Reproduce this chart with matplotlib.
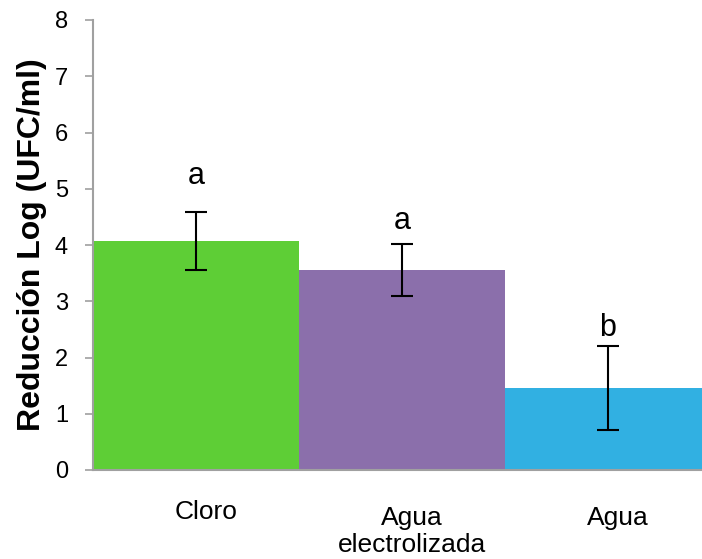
import numpy as np
import matplotlib.pyplot as plt
import matplotlib.transforms as mtransforms

plt.rcParams['font.family'] = ['Liberation Sans', 'DejaVu Sans']

# datos
tratamientos = ['Cloro', 'Agua\nelectrolizada', 'Agua']
reduccion = [4.07, 3.56, 1.46]
error = [0.52, 0.46, 0.74]
letras = ['a', 'a', 'b']
altura_letras = [5.23, 4.43, 2.52]
colores = ['#5ece36', '#8b6fab', '#31b0e2']

fig = plt.figure(figsize=(7.02, 5.59), dpi=100)
ax = fig.add_axes([93 / 702, 89 / 559, 618 / 702, 450 / 559])

x = np.arange(len(tratamientos))
ax.bar(x, reduccion, width=1.0, color=colores, zorder=2)
ax.errorbar(x, reduccion, yerr=error, fmt='none', ecolor='black',
            elinewidth=1.5, capsize=8, capthick=1.5, zorder=3)

# letras de significancia
for xi, h, l in zip(x, altura_letras, letras):
    ax.text(xi, h, l, ha='center', va='center', fontsize=22)

ax.set_xlim(-0.5, 2.5)
ax.set_ylim(0, 8)
ax.set_yticks(range(0, 9))
ax.tick_params(axis='y', labelsize=17, length=6, width=1.2, color='#a0a0a0', pad=12)
ax.set_xticks([])

# etiquetas de categorias, algo corridas a la derecha como en Excel
desp = mtransforms.ScaledTranslation(10 / 100, 0, fig.dpi_scale_trans)
tr = ax.get_xaxis_transform() + desp
ax.text(0, -0.066, tratamientos[0], transform=tr, ha='center', va='top', fontsize=19)
ax.text(1, -0.080, tratamientos[1], transform=tr, ha='center', va='top',
        fontsize=19, linespacing=1.15)
ax.text(2, -0.080, tratamientos[2], transform=tr, ha='center', va='top', fontsize=19)

for s in ['top', 'right']:
    ax.spines[s].set_visible(False)
for s in ['left', 'bottom']:
    ax.spines[s].set_color('#a0a0a0')
    ax.spines[s].set_linewidth(1.5)

fig.text(32 / 702, (559 - 245) / 559, 'Reducción Log (UFC/ml)', rotation=90,
         ha='center', va='center', fontsize=23, fontweight='bold')

fig.savefig('out.png', dpi=100)
